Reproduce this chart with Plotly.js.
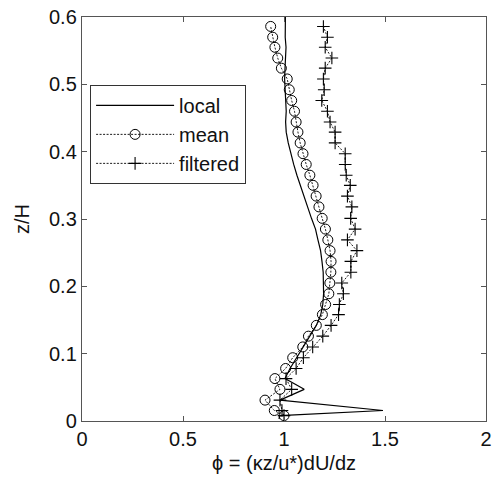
<!DOCTYPE html>
<html>
<head>
<meta charset="utf-8">
<script src="https://cdn.plot.ly/plotly-3.0.1.min.js"></script>
<style>html,body{margin:0;padding:0;background:#fff;}#chart{width:495px;height:482px;}</style>
</head>
<body>
<div id="chart"></div>
<script>
// z/H levels shared by the "mean" and "filtered" profiles
var zGrid = [0.008, 0.0156, 0.031, 0.047, 0.063, 0.078, 0.094, 0.110, 0.126, 0.142,
             0.158, 0.173, 0.189, 0.205, 0.221, 0.237, 0.253, 0.269, 0.285, 0.301,
             0.318, 0.334, 0.350, 0.365, 0.381, 0.397, 0.413, 0.429, 0.444, 0.460,
             0.476, 0.492, 0.508, 0.524, 0.539, 0.555, 0.570, 0.586];

var phiMean = [1.000, 0.952, 0.906, 0.980, 0.955, 1.008, 1.043, 1.093, 1.121, 1.160,
               1.190, 1.206, 1.222, 1.227, 1.232, 1.233, 1.228, 1.217, 1.205, 1.189,
               1.173, 1.159, 1.144, 1.128, 1.110, 1.094, 1.080, 1.069, 1.060, 1.052,
               1.038, 1.026, 1.016, 0.987, 0.969, 0.955, 0.944, 0.934];

var phiFiltered = [1.000, 0.990, 0.980, 1.038, 1.010, 1.060, 1.096, 1.142, 1.192, 1.233,
                   1.270, 1.274, 1.294, 1.286, 1.331, 1.331, 1.361, 1.314, 1.352, 1.330,
                   1.336, 1.314, 1.328, 1.308, 1.303, 1.303, 1.253, 1.253, 1.228, 1.215,
                   1.187, 1.199, 1.195, 1.204, 1.237, 1.204, 1.215, 1.195];

// "local" profile (solid line)
var zLocal = [0.003, 0.008, 0.0156, 0.031, 0.047, 0.063, 0.078, 0.094, 0.110, 0.126,
              0.142, 0.158, 0.173, 0.189, 0.205, 0.221, 0.237, 0.253, 0.269, 0.285,
              0.301, 0.318, 0.334, 0.350, 0.365, 0.381, 0.397, 0.413, 0.429, 0.444,
              0.460, 0.476, 0.492, 0.508, 0.524, 0.539, 0.555, 0.570, 0.586, 0.602];
var phiLocal = [0.975, 0.980, 1.490, 0.980, 1.100, 1.005, 1.030, 1.063, 1.095, 1.129,
                1.160, 1.182, 1.192, 1.196, 1.196, 1.194, 1.188, 1.181, 1.168, 1.156,
                1.136, 1.116, 1.099, 1.082, 1.064, 1.048, 1.034, 1.021, 1.011, 1.008,
                1.011, 1.008, 1.004, 1.003, 1.005, 1.007, 1.010, 1.006, 1.008, 1.007];

var xTicks = [0, 0.5, 1, 1.5, 2];
var xTickLabels = ['0', '0.5', '1', '1.5', '2'];
var yTicks = [0, 0.1, 0.2, 0.3, 0.4, 0.5, 0.6];
var yTickLabels = ['0', '0.1', '0.2', '0.3', '0.4', '0.5', '0.6'];
var seriesNames = ['local', 'mean', 'filtered'];

var FONT = 'Liberation Sans, Arial, Helvetica, sans-serif';

var traces = [
  {x: phiLocal, y: zLocal, name: seriesNames[0], type: 'scatter', mode: 'lines',
   line: {color: '#000', width: 1.2}},
  {x: phiMean, y: zGrid, name: seriesNames[1], type: 'scatter', mode: 'lines+markers',
   line: {color: '#000', width: 0.9, dash: '2px,1.5px'},
   marker: {symbol: 'circle-open', size: 10, color: '#000', line: {width: 1, color: '#000'}}},
  {x: phiFiltered, y: zGrid, name: seriesNames[2], type: 'scatter', mode: 'lines+markers',
   line: {color: '#000', width: 0.9, dash: '2px,1.5px'},
   marker: {symbol: 'cross-thin-open', size: 9, color: '#000', line: {width: 1.1, color: '#000'}}}
];

var axisCommon = {
  showgrid: false, zeroline: false, showline: true, mirror: 'ticks',
  linecolor: '#555', linewidth: 1.2, ticks: 'inside', ticklen: 5, tickcolor: '#555',
  tickfont: {family: FONT, size: 20, color: '#111'}
};

var layout = {
  width: 495, height: 482,
  margin: {l: 82, r: 9, t: 17, b: 61},
  paper_bgcolor: '#fff', plot_bgcolor: '#fff',
  showlegend: true,
  legend: {
    x: 0.02, y: 0.832, xanchor: 'left', yanchor: 'top',
    bgcolor: '#fff', bordercolor: '#333', borderwidth: 1,
    font: {family: FONT, size: 20, color: '#111'},
    itemwidth: 78, tracegroupgap: 0
  },
  xaxis: Object.assign({}, axisCommon, {
    range: [0, 2], tickmode: 'array', tickvals: xTicks, ticktext: xTickLabels,
    title: {text: '\u03d5 = (\u03baz/u*)dU/dz', font: {family: FONT, size: 20, color: '#111'}, standoff: 6}
  }),
  yaxis: Object.assign({}, axisCommon, {
    range: [0, 0.6], tickmode: 'array', tickvals: yTicks, ticktext: yTickLabels,
    title: {text: 'z/H', font: {family: FONT, size: 20, color: '#111'}, standoff: 14}
  })
};

Plotly.newPlot('chart', traces, layout, {displayModeBar: false, staticPlot: true});
</script>
</body>
</html>
